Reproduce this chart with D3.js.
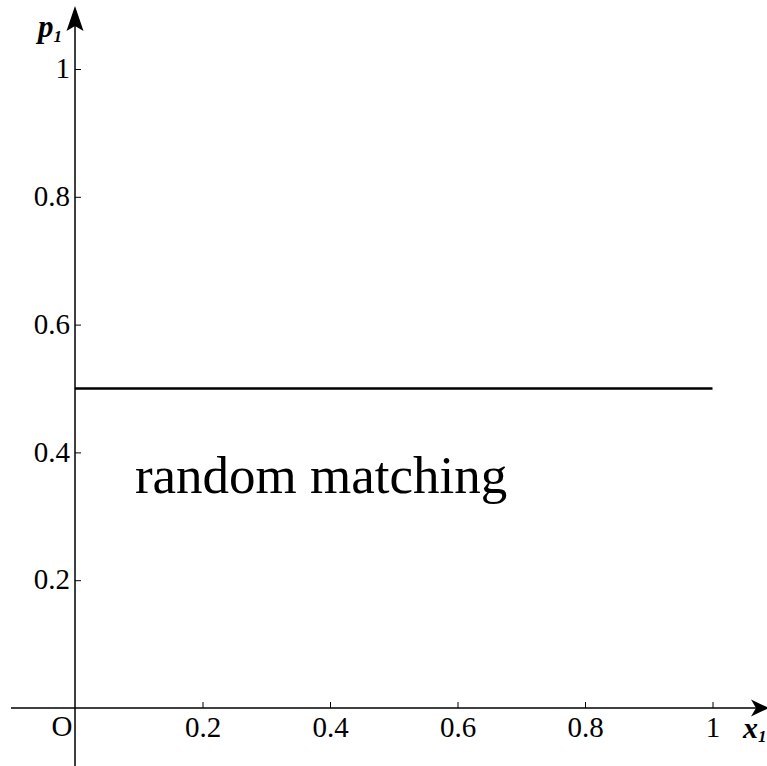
<!DOCTYPE html>
<meta charset="utf-8">
<html lang="en">
<head>
    <title>random matching</title>
    <script type="text/javascript" src="https://d3js.org/d3.v7.min.js"></script>
</head>
<style>
    body { margin: 0; background: #fff; }
    text { font-family: "Liberation Serif", "Times New Roman", serif; fill: #000; }
    .tick text { font-size: 29px; }
    .tick line { stroke: #000; stroke-width: 1; }
    .axisline { stroke: #000; stroke-width: 1.5; }
</style>
<body>
<script>
    var xTicks = [0.2, 0.4, 0.6, 0.8, 1];
    var yTicks = [0.2, 0.4, 0.6, 0.8, 1];
    var lineX = [0, 1];
    var lineP = [0.5, 0.5];
    var note = {text: "random matching", x: 0.094, y: 0.337};

    var W = 767, H = 766;
    var svg = d3.select("body").append("svg").attr("width", W).attr("height", H);

    var x = d3.scaleLinear().domain([0, 1]).range([75, 712.5]);
    var y = d3.scaleLinear().domain([0, 1]).range([708, 69]);

    // axis lines with arrows
    svg.append("line").attr("class", "axisline")
        .attr("x1", 11).attr("x2", W - 8).attr("y1", y(0)).attr("y2", y(0));
    svg.append("line").attr("class", "axisline")
        .attr("x1", x(0)).attr("x2", x(0)).attr("y1", H).attr("y2", 20);

    var ax = x(0), ay = y(0);
    svg.append("path")
        .attr("d", "M" + ax + ",6 L" + (ax + 8.5) + ",31 L" + ax + ",26 L" + (ax - 8.5) + ",31 Z")
        .attr("fill", "#000");
    svg.append("path")
        .attr("d", "M769," + ay + " L" + 751 + "," + (ay - 8.5) + " L" + 756 + "," + ay + " L" + 751 + "," + (ay + 8.5) + " Z")
        .attr("fill", "#000");

    var fmt = d => d === 1 ? "1" : d3.format(".1f")(d);

    var gx = svg.append("g").attr("transform", "translate(0," + y(0) + ")")
        .attr("font-family", null)
        .call(d3.axisBottom(x).tickValues(xTicks).tickSize(-6).tickPadding(8).tickFormat(fmt));
    gx.select(".domain").remove();

    var gy = svg.append("g").attr("transform", "translate(" + x(0) + ",0)")
        .call(d3.axisLeft(y).tickValues(yTicks).tickSize(-6).tickPadding(5).tickFormat(fmt));
    gy.select(".domain").remove();
    gy.selectAll(".tick text").attr("dy", "0.3em");

    svg.append("text").attr("x", x(0) - 13).attr("y", 736)
        .attr("text-anchor", "middle").style("font-size", "29px").text("O");

    // axis names
    var xl = svg.append("text").attr("x", 743).attr("y", 738)
        .style("font-size", "30px").style("font-style", "italic").style("font-weight", "bold");
    xl.append("tspan").text("x");
    xl.append("tspan").attr("dy", 4).style("font-size", "17px").text("1");

    var yl = svg.append("text").attr("x", 38).attr("y", 37)
        .style("font-size", "31px").style("font-style", "italic").style("font-weight", "bold");
    yl.append("tspan").text("p");
    yl.append("tspan").attr("dy", 5).style("font-size", "17px").text("1");

    // constant line
    svg.append("path")
        .datum(lineX.map((d, i) => [d, lineP[i]]))
        .attr("fill", "none").attr("stroke", "#000").attr("stroke-width", 2.5)
        .attr("d", d3.line().x(d => x(d[0])).y(d => y(d[1])));

    svg.append("text").attr("x", x(note.x)).attr("y", y(note.y))
        .style("font-size", "53px").text(note.text);
</script>
</body>
</html>
